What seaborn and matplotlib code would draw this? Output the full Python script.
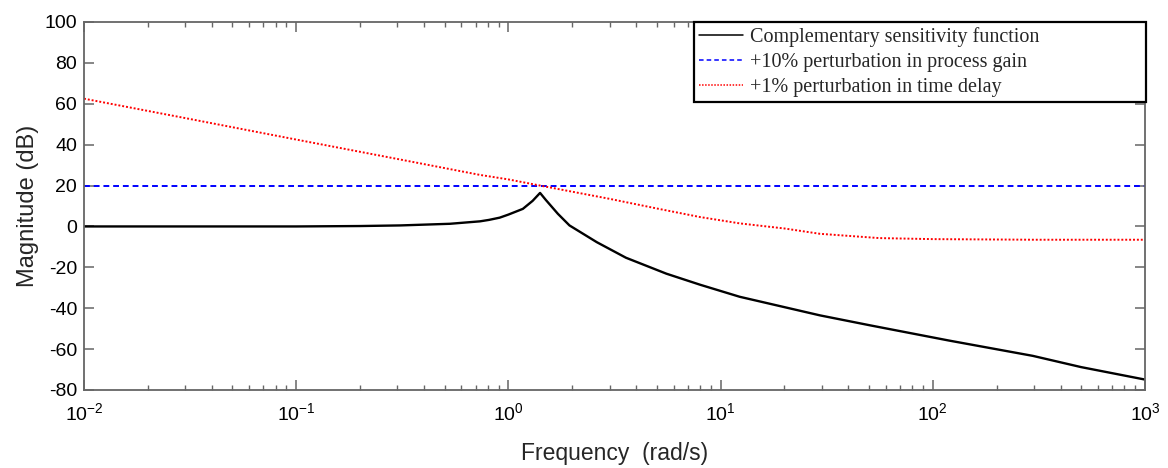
import numpy as np
import pandas as pd
import matplotlib
matplotlib.use("Agg")
import matplotlib.pyplot as plt
import seaborn as sns
from matplotlib.ticker import LogLocator, FixedLocator, NullFormatter

# ---- data ----
freq_T = [0.01, 0.1, 0.2, 0.31, 0.53, 0.735, 0.81, 0.91, 1.0, 1.17, 1.3, 1.41, 1.5, 1.71,
          1.94, 2.61, 3.58, 5.55, 8.0, 12.3, 29.4, 50.8, 119, 296, 500, 1000]
mag_T = [0.0, 0.0, 0.2, 0.5, 1.3, 2.5, 3.2, 4.3, 5.8, 8.6, 12.5, 16.4, 13.0, 6.2,
         0.5, -7.7, -15.3, -23.1, -28.5, -34.4, -43.5, -48.4, -55.8, -63.3, -68.8, -74.9]

freq_gain = [0.01, 1000]
mag_gain = [20, 20]

freq_delay = [0.01, 0.03, 0.1, 0.3, 0.735, 1.0, 1.41, 3, 5, 8, 12.3, 20, 29.4, 56, 100, 300, 1000]
mag_delay = [62.5, 53.0, 42.5, 33.0, 25.2, 23.0, 20.0, 13.5, 8.8, 4.6, 1.5, -1.0, -3.6, -5.7,
             -6.2, -6.5, -6.5]

labels = ["Complementary sensitivity function",
          "+10% perturbation in process gain",
          "+1% perturbation in time delay"]

sns.set_style("white")
plt.rcParams['font.family'] = ['Liberation Sans', 'DejaVu Sans']
plt.rcParams['axes.unicode_minus'] = False
plt.rcParams['mathtext.fontset'] = 'custom'
plt.rcParams['mathtext.rm'] = 'Liberation Sans'
plt.rcParams['mathtext.it'] = 'Liberation Sans'
plt.rcParams['mathtext.bf'] = 'Liberation Sans'

fig = plt.figure(figsize=(11.68, 4.68), dpi=100)
L, R, T, B = 84, 1145, 22, 390
ax = fig.add_axes([L/1168, 1-B/468, (R-L)/1168, (B-T)/468])

df_T = pd.DataFrame({"f": freq_T, "m": mag_T})
df_g = pd.DataFrame({"f": freq_gain, "m": mag_gain})
df_d = pd.DataFrame({"f": freq_delay, "m": mag_delay})

sns.lineplot(data=df_T, x="f", y="m", ax=ax, color="black", lw=1.7, label=labels[0])
sns.lineplot(data=df_g, x="f", y="m", ax=ax, color="#0000ff", lw=1.4, label=labels[1],
             linestyle=(0, (3, 2)))
sns.lineplot(data=df_d, x="f", y="m", ax=ax, color="#ff0000", lw=1.4, label=labels[2],
             linestyle=(0, (1, 1)))

ax.set_xscale("log")
ax.set_xlim(1e-2, 1e3)
ax.set_ylim(-80, 100)
ax.yaxis.set_major_locator(FixedLocator(np.arange(-80, 101, 20)))
ax.xaxis.set_major_locator(LogLocator(base=10, numticks=10))
ax.xaxis.set_minor_locator(LogLocator(base=10, subs=np.arange(2, 10), numticks=20))
ax.xaxis.set_minor_formatter(NullFormatter())

for s in ax.spines.values():
    s.set_color("#666666")
    s.set_linewidth(1.3)
    s.set_visible(True)
ax.tick_params(axis="both", which="both", direction="in", top=True, right=True,
               bottom=True, left=True, color="#666666", labelsize=14, labelcolor="black")
ax.tick_params(axis="both", which="major", length=7.5, width=1.1)
ax.tick_params(axis="x", which="minor", length=3.8, width=1.0)
ax.tick_params(axis="x", which="major", pad=9)
ax.tick_params(axis="y", which="major", pad=5)

ax.set_xlabel("Frequency  (rad/s)", fontsize=16.5, labelpad=13)
ax.set_ylabel("Magnitude (dB)", fontsize=17, labelpad=4)

x0 = (694 - L) / (R - L)
w = (1146 - 694) / (R - L)
leg = ax.legend(loc="upper left", bbox_to_anchor=(x0, 0.0, w, 1.0), mode="expand",
                frameon=True, fancybox=False, borderaxespad=0,
                prop={"family": "Liberation Serif", "size": 14.5}, handlelength=2.2,
                borderpad=0.25, labelspacing=0.3, handletextpad=0.35)
leg.get_frame().set_edgecolor("black")
leg.get_frame().set_linewidth(1.6)
leg.get_frame().set_alpha(1)
for h in leg.get_lines():
    h.set_linewidth(1.1)

fig.savefig("out.png", dpi=100)
